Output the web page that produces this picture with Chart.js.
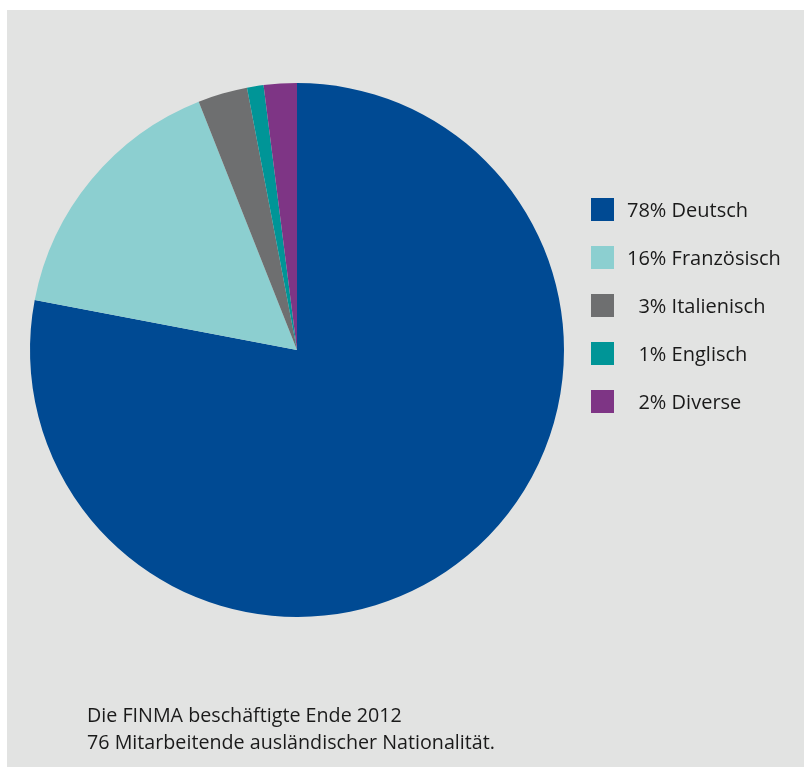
<!DOCTYPE html>
<html>
<head>
<meta charset="utf-8">
<script src="https://cdn.jsdelivr.net/npm/chart.js@4"></script>
<style>
    html, body { margin: 0; padding: 0; background: #fff; }
    #wrap { width: 804px; height: 767px; }
</style>
</head>
<body>
<div id="wrap"><canvas id="pie" width="804" height="767"></canvas></div>
<script>
// Nationalities of foreign staff, FINMA end of 2012 (percent)
const languages = ['Deutsch', 'Französisch', 'Italienisch', 'Englisch', 'Diverse'];
const shares = [78, 16, 3, 1, 2];
const sliceColors = ['#004a93', '#8ccfd0', '#6e6f70', '#009597', '#7e3585'];
const noteLines = ['Die FINMA beschäftigte Ende 2012', '76 Mitarbeitende ausländischer Nationalität.'];

const FONT = '"Open Sans", "Noto Sans", sans-serif';

// grey panel behind everything
const panelPlugin = {
    id: 'panel',
    beforeDraw(chart) {
        const ctx = chart.ctx;
        ctx.save();
        ctx.fillStyle = '#ffffff';
        ctx.fillRect(0, 0, chart.width, chart.height);
        ctx.fillStyle = '#e2e3e2';
        ctx.fillRect(7, 10, chart.width - 7, chart.height - 10);
        ctx.restore();
    }
};

// legend with right-aligned percentages, plus the footnote
const legendPlugin = {
    id: 'sideLegend',
    afterDraw(chart) {
        const ctx = chart.ctx;
        const data = chart.data.datasets[0].data;
        const cols = chart.data.datasets[0].backgroundColor;
        ctx.save();
        ctx.font = '20px ' + FONT;
        ctx.textBaseline = 'middle';
        const pcts = data.map(v => v + '%');
        const pctW = Math.max(...pcts.map(p => ctx.measureText(p).width));
        const pctRight = 627 + pctW;
        const nameX = pctRight + ctx.measureText(' ').width;
        chart.data.labels.forEach((name, i) => {
            const y = 198 + i * 48;
            ctx.fillStyle = cols[i];
            ctx.fillRect(591, y, 23, 23);
            ctx.fillStyle = '#1a1a1a';
            ctx.textAlign = 'right';
            ctx.fillText(pcts[i], pctRight, y + 13);
            ctx.textAlign = 'left';
            ctx.fillText(name, nameX, y + 13);
        });

        ctx.font = '19.7px ' + FONT;
        ctx.textBaseline = 'alphabetic';
        ctx.textAlign = 'left';
        ctx.fillStyle = '#1a1a1a';
        noteLines.forEach((line, i) => {
            ctx.fillText(line, 87, 722 + i * 27);
        });
        ctx.restore();
    }
};

new Chart(document.getElementById('pie'), {
    type: 'pie',
    data: {
        labels: languages,
        datasets: [{
            data: shares,
            backgroundColor: sliceColors,
            borderWidth: 0
        }]
    },
    options: {
        responsive: false,
        animation: false,
        layout: {
            padding: { left: 30, right: 240, top: 83, bottom: 150 }
        },
        plugins: {
            legend: { display: false },
            tooltip: { enabled: false }
        }
    },
    plugins: [panelPlugin, legendPlugin]
});
</script>
</body>
</html>
